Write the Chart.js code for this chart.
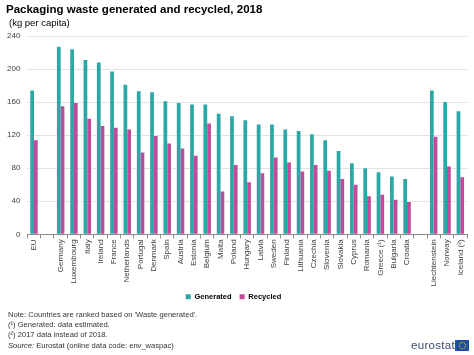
<!DOCTYPE html>
<html>
<head>
<meta charset="utf-8">
<script src="https://cdn.jsdelivr.net/npm/chart.js@4/dist/chart.umd.min.js"></script>
<style>
  html, body { margin: 0; padding: 0; background: #fff; }
  #wrap { position: relative; width: 474px; height: 355px; overflow: hidden; font-family: Arial, "Liberation Sans", sans-serif; }
  #c { position: absolute; left: 0; top: 0; }
  .t { position: absolute; white-space: nowrap; color: #000; }
  #title { left: 6px; top: 3px; font-size: 11.5px; font-weight: bold; }
  #sub { left: 9px; top: 17px; font-size: 9.5px; }
  .note { left: 8px; font-size: 7.6px; color: #333; }
  #logo { position: absolute; left: 411px; top: 339px; height: 14px; }
  #logo span { font-size: 11.5px; color: #3b4a6b; letter-spacing: 0.3px; position: absolute; left: 0; top: 0px; }
  #flag { position: absolute; left: 44px; top: 1px; width: 14px; height: 11px; background: #1f4f9f; }
  #flag i { position: absolute; left: 4px; top: 2px; width: 5px; height: 5px; border: 1px dotted #f5d000; border-radius: 50%; }
</style>
</head>
<body>
<div id="wrap">
  <canvas id="c" width="474" height="355"></canvas>
  <div class="t" id="title">Packaging waste generated and recycled, 2018</div>
  <div class="t" id="sub">(kg per capita)</div>
  <div class="t note" style="top:310px">Note: Countries are ranked based on 'Waste generated'.</div>
  <div class="t note" style="top:320px">(¹) Generated: data estimated.</div>
  <div class="t note" style="top:330px">(²) 2017 data instead of 2018.</div>
  <div class="t note" style="top:341px"><i>Source:</i> Eurostat (online data code: env_waspac)</div>
  <div id="logo"><span>eurostat</span><div id="flag"><i></i></div></div>
</div>
<script>
const categories = ['EU', '', 'Germany', 'Luxembourg', 'Italy', 'Ireland', 'France', 'Netherlands', 'Portugal', 'Denmark', 'Spain', 'Austria', 'Estonia', 'Belgium', 'Malta', 'Poland', 'Hungary', 'Latvia', 'Sweden', 'Finland', 'Lithuania', 'Czechia', 'Slovenia', 'Slovakia', 'Cyprus', 'Romania', 'Greece (¹)', 'Bulgaria', 'Croatia', '', 'Liechtenstein', 'Norway', 'Iceland (²)'];
const generated = [174, null, 227, 224, 211, 208, 197, 181, 173, 172, 161, 159, 157, 157, 146, 143, 138, 133, 133, 127, 125, 121, 114, 101, 86, 80, 75, 70, 67, null, 174, 160, 149];
const recycled = [114, null, 155, 159, 140, 131, 129, 127, 99, 119, 110, 104, 95, 134, 52, 84, 63, 74, 93, 87, 76, 84, 77, 67, 60, 46, 48, 42, 39, null, 118, 82, 69];
const yTicks = [0, 40, 80, 120, 160, 200, 240];

// Place the legend row at a fixed vertical position just below the rotated labels
const LEGEND_TARGET_TOP = 285;
const legendShift = {
  id: 'legendShift',
  beforeDraw(chart) {
    const lg = chart.legend;
    if (!lg) return;
    const d = lg.top - LEGEND_TARGET_TOP;
    if (d !== 0) {
      lg.top -= d; lg.bottom -= d;
      lg.adjustHitBoxes();
    }
  }
};

new Chart(document.getElementById('c'), {
  type: 'bar',
  data: {
    labels: categories,
    datasets: [
      { label: 'Generated', data: generated, backgroundColor: '#2ba8a5', borderWidth: 0 },
      { label: 'Recycled', data: recycled, backgroundColor: '#c6489b', borderWidth: 0 }
    ]
  },
  plugins: [legendShift],
  options: {
    responsive: false,
    animation: false,
    devicePixelRatio: 1,
    layout: { padding: { top: 36, left: 0, right: 7, bottom: 42 } },
    datasets: { bar: { categoryPercentage: 0.56, barPercentage: 1.0 } },
    plugins: {
      legend: {
        position: 'bottom',
        labels: {
          boxWidth: 5, boxHeight: 5, padding: 8, color: '#000',
          font: { family: 'Arial', size: 7.5, weight: 'bold' }
        }
      },
      tooltip: { enabled: false },
      title: { display: false }
    },
    scales: {
      x: {
        grid: { display: true, drawOnChartArea: false, offset: true, tickLength: 4, color: '#8a8a8a' },
        border: { display: true, color: '#8a8a8a' },
        ticks: {
          autoSkip: false, maxRotation: 90, minRotation: 90, padding: 1,
          color: '#404040', font: { family: 'Arial', size: 8 }
        }
      },
      y: {
        min: 0, max: 240,
        afterBuildTicks: (s) => { s.ticks = yTicks.map(v => ({ value: v })); },
        grid: { color: '#e3e3e3', drawTicks: false },
        border: { display: false },
        ticks: { padding: 7, color: '#404040', font: { family: 'Arial', size: 8 } }
      }
    }
  }
});
</script>
</body>
</html>
